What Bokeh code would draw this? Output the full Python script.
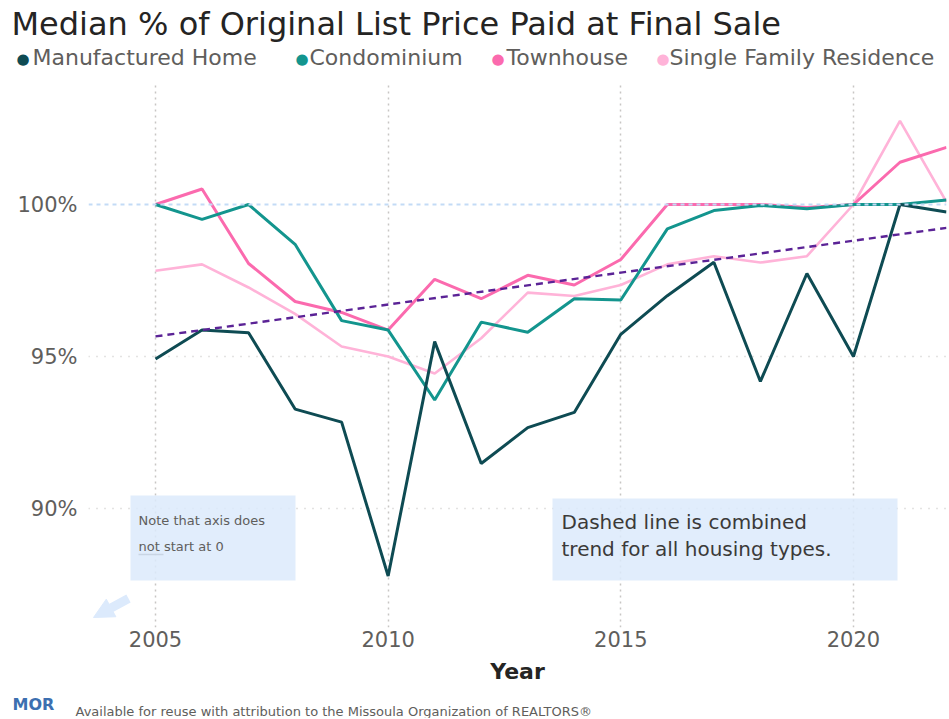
from bokeh.plotting import figure
from bokeh.layouts import column
from bokeh.models import (Label, BoxAnnotation, Span, FixedTicker, Range1d,
                          PrintfTickFormatter, Arrow, NormalHead)
from bokeh.embed import file_html
from bokeh.resources import INLINE

# ---------------- data ----------------
years = list(range(2005, 2023))
manufactured = [94.92, 95.87, 95.78, 93.27, 92.84, 87.78, 95.49, 91.48, 92.66,
                93.16, 95.73, 97.00, 98.10, 94.18, 97.73, 95.00, 100.00, 99.75]
condominium = [100.00, 99.51, 100.00, 98.69, 96.18, 95.87, 93.57, 96.13, 95.80,
               96.90, 96.86, 99.20, 99.80, 99.97, 99.86, 100.00, 100.00, 100.15]
townhouse = [100.00, 100.51, 98.06, 96.81, 96.45, 95.87, 97.54, 96.90, 97.67,
             97.35, 98.19, 100.00, 100.00, 100.00, 99.90, 100.00, 101.39, 101.88]
single_family = [97.82, 98.03, 97.27, 96.40, 95.33, 95.00, 94.44, 95.60, 97.10,
                 96.99, 97.35, 98.03, 98.30, 98.09, 98.30, 100.00, 102.75, 100.08]
trend_years = [2005, 2022]
trend_values = [95.66, 99.23]

series_names = ["Manufactured Home", "Condominium", "Townhouse", "Single Family Residence"]
series_colors = ["#0E4B53", "#13958E", "#FB6AAE", "#FFB3D8"]
trend_color = "#5B2396"

x_ticks = [2005, 2010, 2015, 2020]
y_ticks = [90, 95, 100]
reference_level = 100

title_text = "Median % of Original List Price Paid at Final Sale"
note1_lines = ["Note that axis does", "not start at 0"]
note2_lines = ["Dashed line is combined", "trend for all housing types."]
footer_text = "Available for reuse with attribution to the Missoula Organization of REALTORS\u00ae"

# ---------------- layout ----------------
FONT = "DejaVu Sans"
W = 948
HEADER_H = 82
MAIN_H = 608
FOOTER_H = 28
PX_PER_YEAR = 46.53
PX_PER_PCT = 30.4
FRAME_L, FRAME_R = 88, 946
X0 = 2005 - (155 - FRAME_L) / PX_PER_YEAR
X1 = 2005 + (FRAME_R - 155) / PX_PER_YEAR
Y1 = 100 + (204 - HEADER_H) / PX_PER_PCT
Y0 = 100 - (627 - 204) / PX_PER_PCT


def xd(px):
    return 2005 + (px - 155) / PX_PER_YEAR


def yd(py):
    return 100 + (204 - py) / PX_PER_PCT


def blank_fig(height):
    f = figure(width=W, height=height, x_range=Range1d(0, W), y_range=Range1d(height, 0),
               output_backend="svg", toolbar_location=None,
               x_axis_location=None, y_axis_location=None, min_border=0)
    f.grid.visible = False
    f.outline_line_color = None
    f.frame_align = False
    return f


def add_label(fig, x, y, text, size, color, style="normal", align="left"):
    fig.add_layout(Label(x=x, y=y, text=text, text_font=FONT,
                         text_font_size=size, text_color=color, text_font_style=style,
                         text_align=align, text_baseline="middle"))


# ---- header: title + legend ----
header = blank_fig(HEADER_H)
add_label(header, 11, 23, title_text, "32px", "#252423")
legend_dot_x = [16, 295, 491, 656]
legend_text_x = [32, 309, 506, 669]
for i, name in enumerate(series_names):
    add_label(header, legend_dot_x[i], 58, "\u25cf", "15px", series_colors[i])
    add_label(header, legend_text_x[i], 57, name, "22px", "#605E5C")

# ---- main chart ----
p = figure(width=W, height=MAIN_H, x_range=(X0, X1), y_range=(Y0, Y1),
           output_backend="svg", toolbar_location=None,
           min_border_left=FRAME_L, min_border_right=W - FRAME_R,
           min_border_top=0, min_border_bottom=MAIN_H - (627 - HEADER_H))
p.outline_line_color = None
p.frame_align = False

p.xaxis.ticker = FixedTicker(ticks=x_ticks)
p.yaxis.ticker = FixedTicker(ticks=y_ticks)
p.yaxis.formatter = PrintfTickFormatter(format="%d%%")
for ax in (p.xaxis[0], p.yaxis[0]):
    ax.axis_line_color = None
    ax.major_tick_line_color = None
    ax.minor_tick_line_color = None
    ax.major_tick_out = 0
    ax.major_tick_in = 0
    ax.major_label_text_font = FONT
    ax.major_label_text_font_size = "21px"
    ax.major_label_text_color = "#605E5C"
p.yaxis.major_label_standoff = 11
p.xaxis.major_label_standoff = 3
p.xaxis.axis_label = "Year"
p.xaxis.axis_label_text_font = FONT
p.xaxis.axis_label_text_font_size = "22px"
p.xaxis.axis_label_text_font_style = "bold"
p.xaxis.axis_label_text_color = "#252423"
p.xaxis.axis_label_standoff = 9

p.xgrid.ticker = FixedTicker(ticks=x_ticks)
p.xgrid.grid_line_color = "#C8C6C4"
p.xgrid.grid_line_dash = "2 4"
p.xgrid.grid_line_width = 1.5
p.ygrid.ticker = FixedTicker(ticks=[t for t in y_ticks if t != reference_level])
p.ygrid.grid_line_color = "#C8C6C4"
p.ygrid.grid_line_dash = "1 7"
p.ygrid.grid_line_width = 1.5

p.add_layout(Span(location=reference_level, dimension="width", line_color="#C3DBF6",
                  line_dash="4 4", line_width=2))

box_color = "#DCEAFC"
p.add_layout(BoxAnnotation(left=xd(130), right=xd(295), top=yd(495), bottom=yd(580),
                           fill_color=box_color, fill_alpha=0.85, line_color=None))
p.add_layout(BoxAnnotation(left=xd(552), right=xd(897), top=yd(498), bottom=yd(580),
                           fill_color=box_color, fill_alpha=0.85, line_color=None))

all_series = [manufactured, condominium, townhouse, single_family]
widths = [3, 3, 3, 2.6]
for idx in [3, 2, 1, 0]:
    p.line(years, all_series[idx], line_color=series_colors[idx], line_width=widths[idx])
p.line(trend_years, trend_values, line_color=trend_color, line_width=2.4, line_dash="7 5")

p.add_layout(Arrow(x_start=xd(128), y_start=yd(598), x_end=xd(93), y_end=yd(617),
                   line_color=box_color, line_width=9,
                   end=NormalHead(size=20, fill_color=box_color, line_color=box_color)))


def main_label(px, py, text, size, color):
    p.add_layout(Label(x=xd(px), y=yd(py), text=text, text_font=FONT,
                       text_font_size=size, text_color=color,
                       text_align="left", text_baseline="middle"))


main_label(138, 520, note1_lines[0], "13px", "#605E5C")
main_label(138, 546, note1_lines[1], "13px", "#605E5C")
p.segment(x0=[xd(138)], y0=[yd(554)], x1=[xd(163)], y1=[yd(554)],
          line_color="#605E5C", line_width=1.3)
main_label(561, 521, note2_lines[0], "20px", "#3B3A39")
main_label(561, 548, note2_lines[1], "20px", "#3B3A39")

# ---- footer ----
footer = blank_fig(FOOTER_H)
add_label(footer, 12, 14, "MOR", "16px", "#3C6FB0", style="bold")
add_label(footer, 75, 21, footer_text, "13px", "#605E5C")

layout = column(header, p, footer, spacing=0)
open("out.html", "w").write(file_html(layout, INLINE))
